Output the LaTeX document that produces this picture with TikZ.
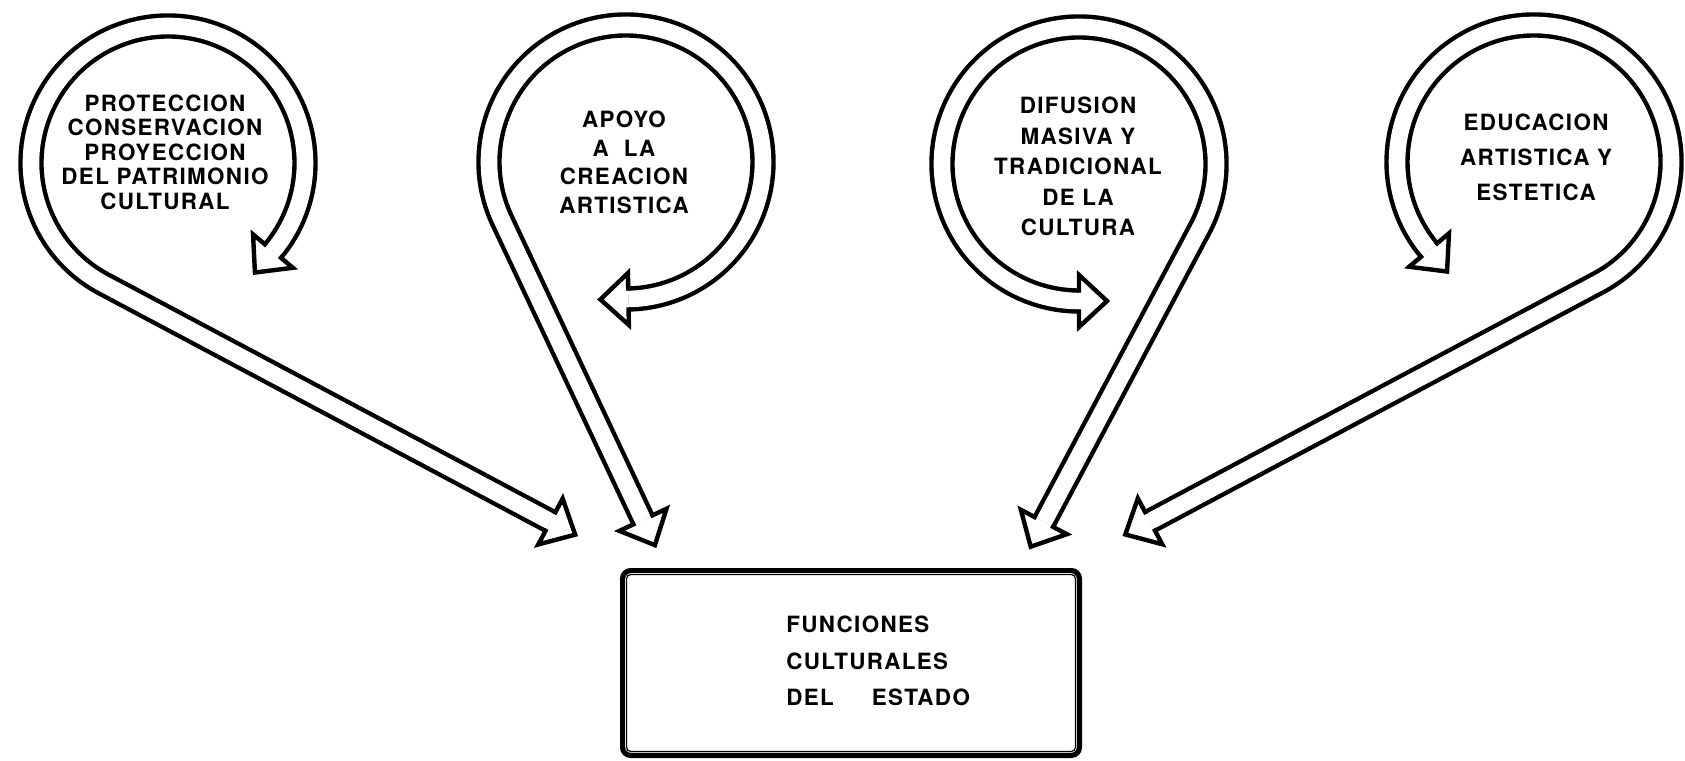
\documentclass[tikz,border=0pt]{standalone}
\usepackage{fontspec}
\newfontfamily\signfont[LetterSpace=6]{TeX Gyre Heros}
\tikzset{
	band/.style = {
		draw=black,
		line width=2.2pt,
		double=white,
		double distance=8.3pt
	},
	loopnote/.style = {
		align=center,
		inner sep=0pt,
		font=\signfont\bfseries\fontsize{11.2pt}{#1}\selectfont
	},
	funcbox/.style = {
		draw=black,
		rounded corners=4pt,
		line width=2.6pt,
		minimum width=228.4pt,
		minimum height=92.4pt
	},
	pics/bandhead/.style = {
		code = {
			\draw[black, fill=white, line width=2.2pt, line join=miter]
				(0,4.15pt) -- (0,13pt) -- (14pt,0) -- (0,-13pt) -- (0,-4.15pt);
		}
	},
}

\begin{document}
\begin{tikzpicture}[x=0.5pt, y=0.5pt]
\useasboundingbox (0,0) rectangle (1685,-760);
% centres of the four loops
\coordinate (c1) at (168,-163);
\coordinate (c2) at (626,-162);
\coordinate (c3) at (1079,-164);
\coordinate (c4) at (1534,-162);
% where the tails leave the loops
\coordinate (t1) at ([shift={(242:137)}]c1);
\coordinate (t2) at ([shift={(205.2:137)}]c2);
\coordinate (t3) at ([shift={(-28:137)}]c3);
\coordinate (t4) at ([shift={(-62:137)}]c4);
% ends near the box
\coordinate (b1) at ([shift={(-28:506)}]t1);
\coordinate (b2) at ([shift={(-64.8:331)}]t2);
\coordinate (b3) at ([shift={(-118:332.6)}]t3);
\coordinate (b4) at ([shift={(208:507.7)}]t4);
% ends inside the loops
\coordinate (e1) at ([shift={(-40:137)}]c1);
\coordinate (e2) at ([shift={(-89:137)}]c2);
\coordinate (e3) at ([shift={(270:137)}]c3);
\coordinate (e4) at ([shift={(220:137)}]c4);

\draw[band] (b1) -- (t1) arc[start angle=242, end angle=-40, radius=137];
\draw[band] (b2) -- (t2) arc[start angle=205.2, end angle=-89, radius=137];
\draw[band] (b3) -- (t3) arc[start angle=-28, end angle=270, radius=137];
\draw[band] (b4) -- (t4) arc[start angle=-62, end angle=220, radius=137];

\path (b1) pic[rotate=-28] {bandhead} (e1) pic[rotate=-130] {bandhead};
\path (b2) pic[rotate=-64.8] {bandhead} (e2) pic[rotate=-179] {bandhead};
\path (b3) pic[rotate=-118] {bandhead} (e3) pic[rotate=0] {bandhead};
\path (b4) pic[rotate=208] {bandhead} (e4) pic[rotate=310] {bandhead};

\node[loopnote=12.25pt] (patrimonio) at (165,-152)
	{PROTECCION\\CONSERVACION\\PROYECCION\\DEL PATRIMONIO\\CULTURAL};
\node[loopnote=14.25pt] (creacion) at (624,-162.5)
	{APOYO\\A\ \ LA\\CREACION\\ARTISTICA};
\node[loopnote=15.3pt] (difusion) at (1078,-166.5)
	{DIFUSION\\MASIVA Y\\TRADICIONAL\\DE LA\\CULTURA};
\node[loopnote=17.5pt] (educacion) at (1536,-157)
	{EDUCACION\\ARTISTICA Y\\ESTETICA};

% box of the state
\node[funcbox] (estado) at (851,-663) {};
\draw[line width=0.6pt, rounded corners=2pt]
	([shift={(3.3pt,-3.3pt)}]estado.north west) rectangle ([shift={(-3.3pt,3.3pt)}]estado.south east);
\node[loopnote=18.25pt, align=left, anchor=west] (estadonote) at (786,-661)
	{FUNCIONES\\CULTURALES\\DEL\hspace{19pt}ESTADO};
\end{tikzpicture}
\end{document}
